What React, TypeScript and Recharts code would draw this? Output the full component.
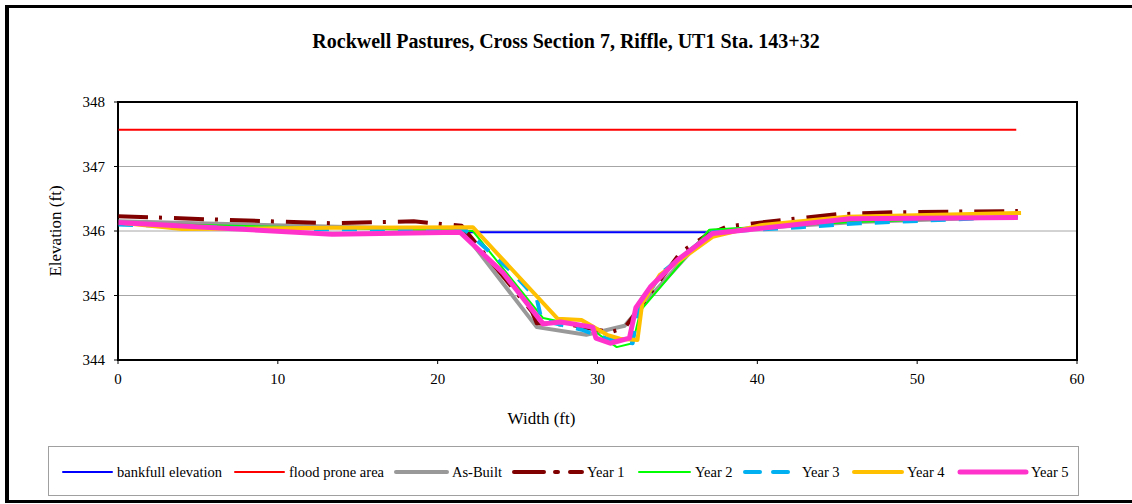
import React from 'react';
import {
  LineChart,
  Line,
  XAxis,
  YAxis,
  CartesianGrid,
  ReferenceArea
} from 'recharts';

type Pt = [number, number];

// cross-section surveys, [width ft, elevation ft]
const bankfull: Pt[] = [[21.8, 345.98], [37.2, 345.98]];
const floodProne: Pt[] = [[0, 347.57], [56.2, 347.57]];
const asBuilt: Pt[] = [
  [0, 346.15], [21.5, 346.02], [26.2, 344.51], [29.3, 344.39], [31.7, 344.53],
  [32.7, 344.82], [37.0, 346.0], [46.2, 346.14], [56.3, 346.22]
];
const year1: Pt[] = [
  [0, 346.23], [7, 346.17], [13.5, 346.12], [18.5, 346.15], [21.5, 346.08],
  [25.9, 344.75], [26.2, 344.57], [28.5, 344.54], [30.8, 344.43], [31.7, 344.5],
  [32.3, 344.7], [35.2, 345.67], [36.8, 345.93], [38.1, 346.07], [41.2, 346.16],
  [45.0, 346.26], [48.5, 346.29], [56.3, 346.31]
];
const year2: Pt[] = [
  [0, 346.12], [22.2, 346.0], [26.6, 344.65], [29.5, 344.5], [31.2, 344.2],
  [32.2, 344.26], [32.7, 344.77], [37.0, 346.02], [46.0, 346.14], [56.3, 346.22]
];
const year3: Pt[] = [
  [0, 346.1], [10, 346.03], [21.7, 346.02], [24.5, 345.4], [26.2, 344.95],
  [26.5, 344.62], [29.0, 344.47], [30.6, 344.33], [32.2, 344.26], [32.5, 344.75],
  [34.0, 345.35], [37.2, 345.98], [42.7, 346.06], [46.4, 346.12], [56.3, 346.22]
];
const year4: Pt[] = [
  [0, 346.13], [4, 346.03], [13.5, 346.05], [22.2, 346.06], [27.5, 344.64],
  [29.0, 344.62], [30.6, 344.39], [31.4, 344.33], [32.5, 344.31], [32.8, 344.88],
  [33.9, 345.32], [37.2, 345.91], [40.2, 346.09], [45.6, 346.22], [56.5, 346.28]
];
const year5: Pt[] = [
  [0, 346.13], [13.4, 345.95], [21.4, 345.98], [24.1, 345.35], [26.6, 344.56],
  [27.7, 344.59], [29.7, 344.51], [29.9, 344.34], [30.8, 344.26], [32.0, 344.34],
  [32.4, 344.81], [33.3, 345.13], [35.0, 345.55], [37.2, 345.96], [45.8, 346.19],
  [56.3, 346.21]
];

const xTicks = [0, 10, 20, 30, 40, 50, 60];
const yTicks = [344, 345, 346, 347, 348];

const toRows = (pts: Pt[]) => pts.map(([x, y]) => ({ x, y }));

const series = [
  { name: 'bankfull elevation', pts: bankfull, color: '#0000ff', width: 2, dash: undefined as string | undefined },
  { name: 'flood prone area', pts: floodProne, color: '#ff0000', width: 2, dash: undefined },
  { name: 'As-Built', pts: asBuilt, color: '#999999', width: 4, dash: undefined },
  { name: 'Year 1', pts: year1, color: '#800000', width: 4, dash: '30 11 3 12' },
  { name: 'Year 2', pts: year2, color: '#00ff00', width: 2, dash: undefined },
  { name: 'Year 3', pts: year3, color: '#00b0f0', width: 4, dash: '15 13' },
  { name: 'Year 4', pts: year4, color: '#ffc000', width: 4, dash: undefined },
  { name: 'Year 5', pts: year5, color: '#ff33cc', width: 5, dash: undefined }
];

const FONT = "'Liberation Serif', 'DejaVu Serif', serif";

// legend swatch positions
const legendItems = [
  { lx: 15, tx: 69 },
  { lx: 187, tx: 241 },
  { lx: 348, tx: 404 },
  { lx: 466, tx: 539 },
  { lx: 591, tx: 647 },
  { lx: 697, tx: 754 },
  { lx: 806, tx: 859 },
  { lx: 912, tx: 983 }
];

const LegendBox = () => (
  <svg
    width={1031}
    height={50}
    style={{ position: 'absolute', left: 48, top: 446 }}
  >
    <rect x={0.5} y={0.5} width={1030} height={49} fill="#fff" stroke="#a0a0a0" />
    {series.map((s, i) => {
      const it = legendItems[i];
      const end = it.tx - 5;
      return (
        <g key={s.name}>
          <line
            x1={it.lx}
            x2={end}
            y1={26}
            y2={26}
            stroke={s.color}
            strokeWidth={s.width}
            strokeDasharray={s.dash}
            strokeLinecap="round"
          />
          <text x={it.tx} y={31} fontFamily={FONT} fontSize={14.5} fill="#000">
            {s.name}
          </text>
        </g>
      );
    })}
  </svg>
);

export default function App() {
  return (
    <div style={{ position: 'absolute', left: 0, top: 0, width: 1132, height: 504, background: '#fff', overflow: 'hidden' }}>
      <div
        style={{
          position: 'absolute',
          left: 5,
          top: 5,
          width: 1140,
          height: 492,
          borderLeft: '4px solid #000',
          borderTop: '3px solid #000',
          borderBottom: '3px solid #000'
        }}
      />
      <div
        style={{
          position: 'absolute',
          left: 0,
          top: 30,
          width: 1132,
          textAlign: 'center',
          fontFamily: FONT,
          fontWeight: 'bold',
          fontSize: 20
        }}
      >
        Rockwell Pastures, Cross Section 7, Riffle, UT1 Sta. 143+32
      </div>
      <div style={{ position: 'absolute', left: 0, top: 0 }}>
        <LineChart width={1132} height={504} margin={{ top: 102, right: 55, left: 45, bottom: 78 }}>
          <CartesianGrid vertical={false} stroke="#a6a6a6" strokeWidth={1} />
          <XAxis
            dataKey="x"
            type="number"
            domain={[0, 60]}
            ticks={xTicks}
            interval={0}
            height={66}
            tickSize={4}
            tickMargin={9}
            stroke="#000"
            tick={{ fontFamily: FONT, fontSize: 15, fill: '#000' }}
            label={{ value: 'Width (ft)', position: 'insideBottom', dx: -56, offset: 2, style: { fontFamily: FONT, fontSize: 17, fill: '#000' } }}
          />
          <YAxis
            type="number"
            domain={[344, 348]}
            ticks={yTicks}
            interval={0}
            width={73}
            tickSize={4}
            tickMargin={9}
            stroke="#000"
            tick={{ fontFamily: FONT, fontSize: 15, fill: '#000' }}
            label={{ value: 'Elevation (ft)', angle: -90, position: 'insideLeft', offset: 10, style: { textAnchor: 'middle', fontFamily: FONT, fontSize: 17, fill: '#000' } }}
          />
          {series.map((s) => (
            <Line
              key={s.name}
              name={s.name}
              data={toRows(s.pts)}
              dataKey="y"
              type="linear"
              stroke={s.color}
              strokeWidth={s.width}
              strokeDasharray={s.dash}
              strokeLinejoin="round"
              dot={false}
              activeDot={false}
              isAnimationActive={false}
            />
          ))}
          <ReferenceArea x1={0} x2={60} y1={344} y2={348} fill="none" stroke="#000" strokeWidth={2} ifOverflow="visible" />
        </LineChart>
      </div>
      <LegendBox />
    </div>
  );
}
